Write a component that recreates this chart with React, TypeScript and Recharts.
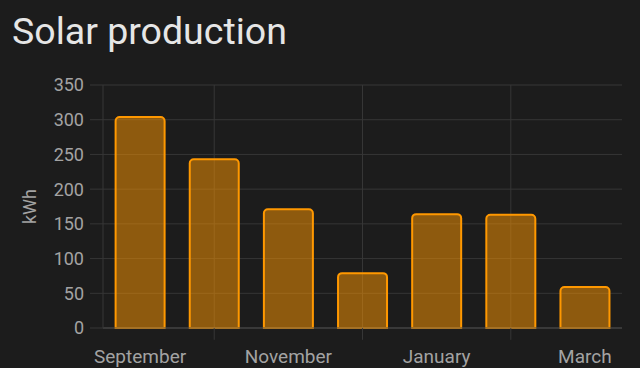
import { BarChart, Bar, XAxis, YAxis, CartesianGrid, ReferenceLine } from "recharts"

const months = ["Sep", "Oct", "Nov", "Dec", "Jan", "Feb", "Mar"]
const monthLabels = ["September", "October", "November", "December", "January", "February", "March"]
const production = [304, 243, 171, 79, 164, 163, 59]
const yTicks = [0, 50, 100, 150, 200, 250, 300, 350]
const gridMonths = ["Oct", "Dec", "Feb"]

const data = months.map((m, i) => ({ month: m, label: monthLabels[i], kwh: production[i] }))

const bg = "#1c1c1c"
const grid = "#363636"
const text = "#a3a3a3"
const font = "Roboto, 'Noto Sans', sans-serif"

// vertical grid lines sit on the centres of the unlabelled months
function verticalLines({ offset }: any): number[] {
  if (!offset || !offset.width) return []
  const band = offset.width / months.length
  return gridMonths.map((m) => offset.left + band * (months.indexOf(m) + 0.5))
}

export default function App() {
  return (
    <div style={{ position: "absolute", left: 0, top: 0, width: 640, height: 368, background: bg, overflow: "hidden" }}>
      <div
        style={{
          position: "absolute",
          left: 12,
          top: 7,
          fontFamily: font,
          fontSize: 37.5,
          color: "#e6e6e6",
          lineHeight: "48px",
        }}
      >
        Solar production
      </div>
      <BarChart
        width={640}
        height={368}
        data={data}
        margin={{ top: 85, right: 18, left: 0, bottom: 10 }}
        barCategoryGap="17%"
        style={{ position: "absolute", left: 0, top: 0 }}
      >
        <CartesianGrid stroke={grid} verticalCoordinatesGenerator={verticalLines} />
        {gridMonths.map((m) => (
          <ReferenceLine
            key={m}
            segment={[
              { x: m, y: -17 },
              { x: m, y: 0 },
            ]}
            stroke={grid}
            ifOverflow="visible"
          />
        ))}
        <XAxis
          dataKey="month"
          interval={1}
          tickFormatter={(v: string) => monthLabels[months.indexOf(v)]}
          tick={{ fill: text, fontSize: 19, fontFamily: font }}
          tickLine={false}
          tickSize={0}
          tickMargin={22}
          axisLine={{ stroke: "#4a4a4a" }}
          height={30}
        />
        <YAxis
          ticks={yTicks}
          domain={[0, 350]}
          width={103}
          tick={{ fill: text, fontSize: 18, fontFamily: font }}
          tickSize={13}
          tickMargin={6}
          tickLine={{ stroke: grid }}
          axisLine={{ stroke: grid }}
          label={{
            value: "kWh",
            angle: -90,
            position: "insideLeft",
            offset: 30,
            style: { textAnchor: "middle", fill: text, fontSize: 18, fontFamily: font },
          }}
        />
        <Bar
          dataKey="kwh"
          fill="#ff9800"
          fillOpacity={0.5}
          stroke="#ff9800"
          strokeWidth={2}
          radius={[4, 4, 0, 0]}
          isAnimationActive={false}
        />
      </BarChart>
    </div>
  )
}
